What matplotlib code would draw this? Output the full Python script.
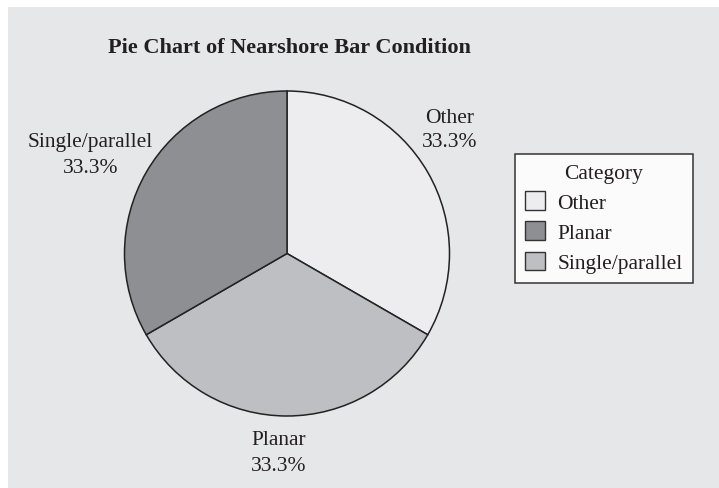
import matplotlib
matplotlib.use("Agg")
import matplotlib.pyplot as plt
from matplotlib.patches import Patch, Rectangle

# data
categories = ["Other", "Planar", "Single/parallel"]
counts = [1, 1, 1]

# slice colours as drawn in the pie, and as shown in the legend (they differ in the original)
pie_colors = ["#ededef", "#bebfc2", "#8e8f93"]
legend_colors = ["#ededef", "#8e8f93", "#bebfc2"]

plt.rcParams["font.family"] = ["Liberation Serif", "DejaVu Serif"]
TXT = "#231f20"

W, H = 719, 489
fig = plt.figure(figsize=(W / 100, H / 100), dpi=100, facecolor="white")

# gray panel with a thin white strip on top and left
fig.patches.append(Rectangle((8 / W, -0.05), 1.1, 1.05 - 8 / H, transform=fig.transFigure,
                             facecolor="#e6e7e9", edgecolor="none", zorder=-10))

ax = fig.add_axes([0, 0, 1, 1], zorder=1)
ax.patch.set_alpha(0)

cx, cy, r = 287, H - 254.5, 162.5
wedges, _ = ax.pie(counts, colors=pie_colors, startangle=90, counterclock=False,
                   center=(cx, cy), radius=r,
                   wedgeprops=dict(edgecolor="#222222", linewidth=1.1))

# pie() rescales the axes, so fix the pixel frame afterwards
ax.set_xlim(0, W)
ax.set_ylim(0, H)
ax.axis("off")

total = sum(counts)
pct = [100 * c / total for c in counts]
# label anchors: centre x, baseline of the name line, baseline of the percent line
label_pos = {"Other": (450, 123, 147), "Planar": (279, 445, 471), "Single/parallel": (90.5, 147, 173)}
for cat, p in zip(categories, pct):
    x, y1, y2 = label_pos[cat]
    ax.text(x, H - y1, cat, ha="center", va="baseline", fontsize=15.5, color=TXT)
    ax.text(x, H - y2, f"{p:.1f}%", ha="center", va="baseline", fontsize=15.5, color=TXT)

ax.text(289, H - 53, "Pie Chart of Nearshore Bar Condition", ha="center", va="baseline",
        fontsize=16, fontweight="bold", color=TXT)

handles = [Patch(facecolor=c, edgecolor="#333333", linewidth=1) for c in legend_colors]
leg = fig.legend(handles, categories, title="Category", loc="upper left",
                 bbox_to_anchor=(515 / W, 1 - 155 / H), fontsize=15.5, title_fontsize=15.5,
                 fancybox=False, edgecolor="#333333", facecolor="#fbfbfb", framealpha=1,
                 handlelength=0.93, handleheight=0.93, handletextpad=0.6,
                 borderpad=0.45, labelspacing=0.4, borderaxespad=0)
leg.set_zorder(2)
leg.get_frame().set_linewidth(1.1)
for t in leg.get_texts():
    t.set_color(TXT)
leg.get_title().set_color(TXT)

fig.savefig("out.png", dpi=100, facecolor="white")
